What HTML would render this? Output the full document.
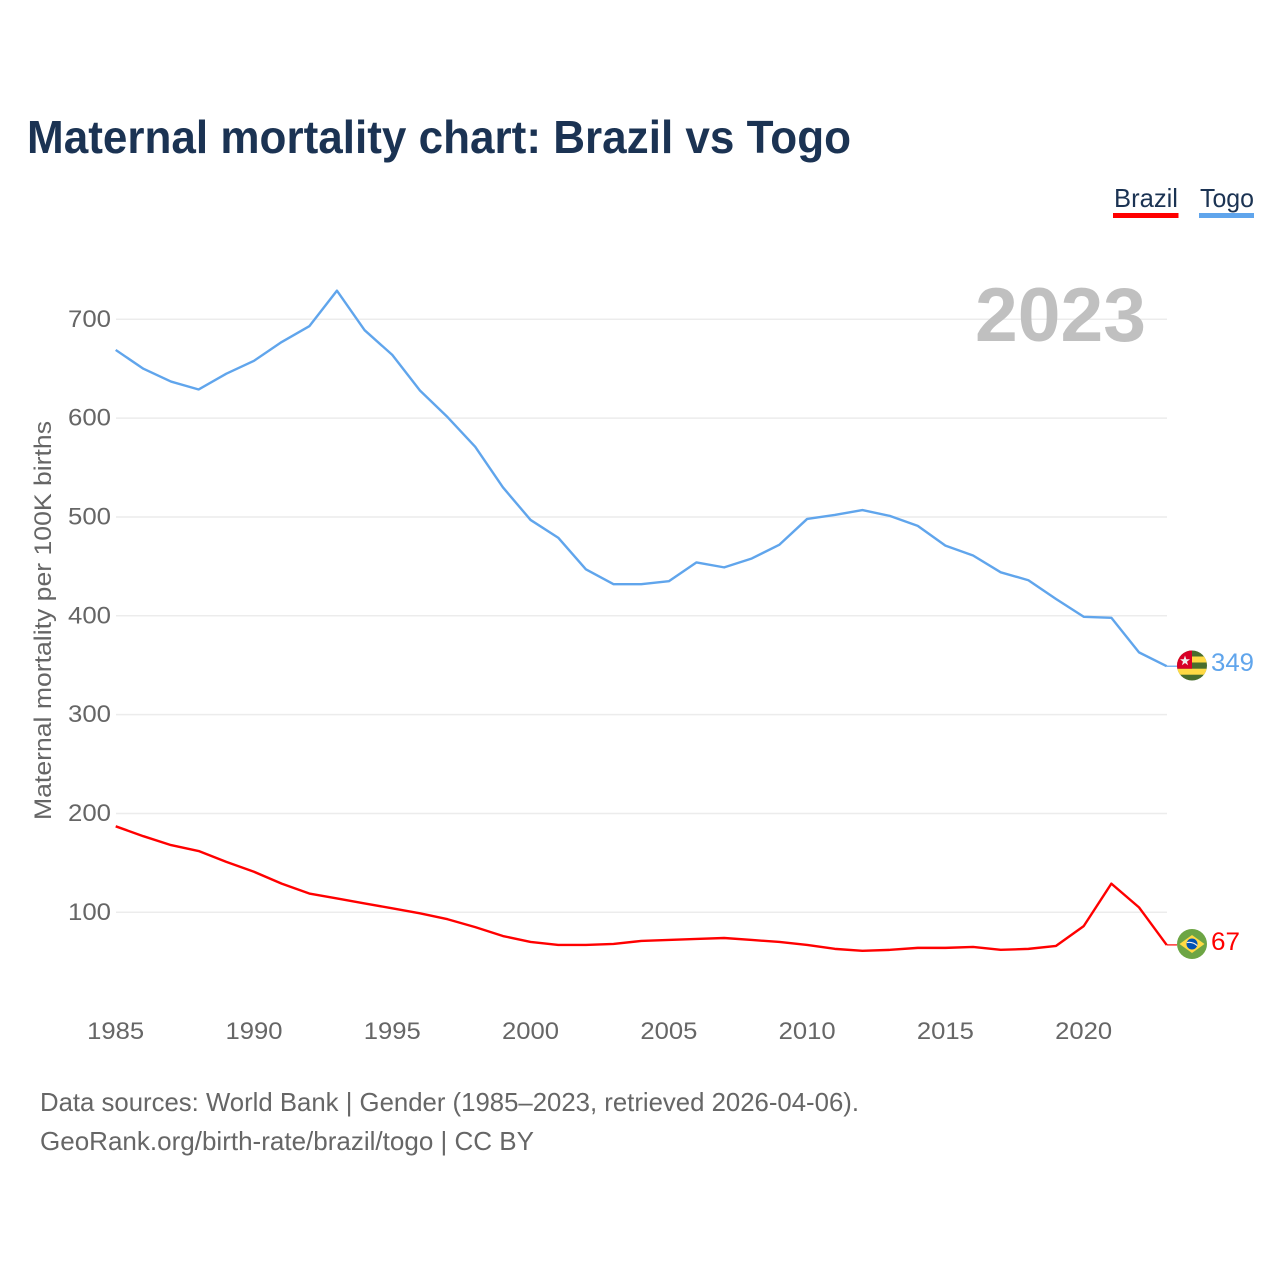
<!DOCTYPE html>
<html lang="en">
<head>
<meta charset="utf-8">
<title>Maternal mortality chart: Brazil vs Togo</title>
<style>
html,body{margin:0;padding:0;background:#fff}
svg{display:block;font-family:"Liberation Sans",sans-serif}
</style>
</head>
<body>
<svg id="chart" width="1280" height="1280" viewBox="0 0 1280 1280" xmlns="http://www.w3.org/2000/svg">
  <defs>
    <clipPath id="clip-togo"><circle cx="1192" cy="665.5" r="15"/></clipPath>
    <clipPath id="clip-brazil"><circle cx="1192" cy="944" r="15"/></clipPath>
  </defs>
  <text x="27" y="153" font-size="46" font-weight="700" fill="#1b3353" textLength="824" lengthAdjust="spacingAndGlyphs">Maternal mortality chart: Brazil vs Togo</text>

  <g>
    <g>
      <text x="1114" y="207" font-size="26" fill="#1b3353" textLength="64" lengthAdjust="spacingAndGlyphs">Brazil</text>
      <rect x="1113" y="213" width="65.5" height="5" fill="#ff0000"/>
    </g>
    <g>
      <text x="1200" y="207" font-size="26" fill="#1b3353" textLength="54" lengthAdjust="spacingAndGlyphs">Togo</text>
      <rect x="1199" y="213" width="55" height="5" fill="#60a5ec"/>
    </g>
  </g>

  <g id="grid"></g>
  <g id="y-ticks"></g>
  <g id="x-ticks"></g>

  <text x="975" y="341" font-size="76" font-weight="700" fill="#c0c0c0" textLength="171" lengthAdjust="spacingAndGlyphs">2023</text>

  <text transform="translate(51,820) rotate(-90)" x="0" y="0" font-size="24" fill="#666666" textLength="399" lengthAdjust="spacingAndGlyphs">Maternal mortality per 100K births</text>

  <g id="series"></g>

  <g clip-path="url(#clip-togo)">
    <rect x="1177" y="650" width="30" height="31" fill="#496e2d"/>
    <rect x="1177" y="656.5" width="30" height="6" fill="#ffda44"/>
    <rect x="1177" y="668.7" width="30" height="6" fill="#ffda44"/>
    <rect x="1177" y="650" width="15" height="18.7" fill="#d80027"/>
    <polygon points="1185,655.5 1186.3,659.3 1190,659.3 1187,661.6 1188.1,665.3 1185,663 1181.9,665.3 1183,661.6 1180,659.3 1183.7,659.3" fill="#f0f0f0"/>
  </g>
  <g clip-path="url(#clip-brazil)">
    <rect x="1177" y="929" width="30" height="30" fill="#6da544"/>
    <polygon points="1192,935 1204.5,944 1192,953 1179.5,944" fill="#ffda44"/>
    <circle cx="1192" cy="944" r="5.5" fill="#0052b4"/>
    <path d="M1186.8,942.6 Q1192.5,941.4 1197.2,945.6" fill="none" stroke="#f0f0f0" stroke-width="1.2"/>
  </g>

  <text id="label-togo" x="1211" y="671" font-size="25" fill="#60a5ec" textLength="43" lengthAdjust="spacingAndGlyphs"></text>
  <text id="label-brazil" x="1211" y="950" font-size="25" fill="#ff0000" textLength="29" lengthAdjust="spacingAndGlyphs"></text>

  <g>
    <text x="40" y="1111" font-size="26" fill="#666666" textLength="819" lengthAdjust="spacingAndGlyphs">Data sources: World Bank | Gender (1985–2023, retrieved 2026-04-06).</text>
    <text x="40" y="1150" font-size="26" fill="#666666" textLength="494" lengthAdjust="spacingAndGlyphs">GeoRank.org/birth-rate/brazil/togo | CC BY</text>
  </g>
</svg>
<script>
const years = [1985,1986,1987,1988,1989,1990,1991,1992,1993,1994,1995,1996,1997,1998,1999,2000,2001,2002,2003,2004,2005,2006,2007,2008,2009,2010,2011,2012,2013,2014,2015,2016,2017,2018,2019,2020,2021,2022,2023];
const togoValues = [669,650,637,629,645,658,677,693,729,689,664,628,601,571,530,497,479,447,432,432,435,454,449,458,472,498,502,507,501,491,471,461,444,436,417,399,398,363,349];
const brazilValues = [187,177,168,162,151,141,129,119,114,109,104,99,93,85,76,70,67,67,68,71,72,73,74,72,70,67,63,61,62,64,64,65,62,63,66,86,129,105,67];
const yTicks = [100,200,300,400,500,600,700];
const xTicks = [1985,1990,1995,2000,2005,2010,2015,2020];

const NS = 'http://www.w3.org/2000/svg';
function xScale(year){ return 115.7 + (year - 1985) * (1084 - 116) / 35; }
function yScale(v){ return 912.3 - (v - 100) * (912 - 319) / 600; }
function make(tag, attrs, parent){
  const el = document.createElementNS(NS, tag);
  for (const k in attrs) el.setAttribute(k, attrs[k]);
  parent.appendChild(el);
  return el;
}
const gridG = document.getElementById('grid');
const yG = document.getElementById('y-ticks');
const xG = document.getElementById('x-ticks');
const seriesG = document.getElementById('series');

yTicks.forEach(function(v){
  const line = make('line', {x1:116, x2:1167, y1:yScale(v), y2:yScale(v), stroke:'#ececec', 'stroke-width':1.5}, gridG);
  
  
  const t = make('text', {x:111, y:yScale(v)+7.5, 'text-anchor':'end', 'font-size':24, fill:'#666666', textLength:43, lengthAdjust:'spacingAndGlyphs'}, yG);
  
  
  t.textContent = v;
});
xTicks.forEach(function(y){
  const t = make('text', {x:xScale(y)-28.5, y:1039, 'font-size':24, fill:'#666666', textLength:57, lengthAdjust:'spacingAndGlyphs'}, xG);
  
  
  t.textContent = y;
});
function drawSeries(values, color, name){
  const pts = values.map(function(v,i){ return xScale(years[i]).toFixed(2) + ',' + yScale(v).toFixed(2); }).join(' ');
  const line = make('polyline', {points:pts, fill:'none', stroke:color, 'stroke-width':2.4, 'stroke-linejoin':'round'}, seriesG);
  
  
  const lastY = yScale(values[values.length-1]);
  const lead = make('line', {x1:xScale(years[years.length-1]), x2:1177, y1:lastY, y2:lastY, stroke:color, 'stroke-width':1.2}, seriesG);
  
  
}
drawSeries(togoValues, '#60a5ec', 'line-togo');
drawSeries(brazilValues, '#ff0000', 'line-brazil');
document.getElementById('label-togo').textContent = togoValues[togoValues.length-1];
document.getElementById('label-brazil').textContent = brazilValues[brazilValues.length-1];
</script>
</body>
</html>
